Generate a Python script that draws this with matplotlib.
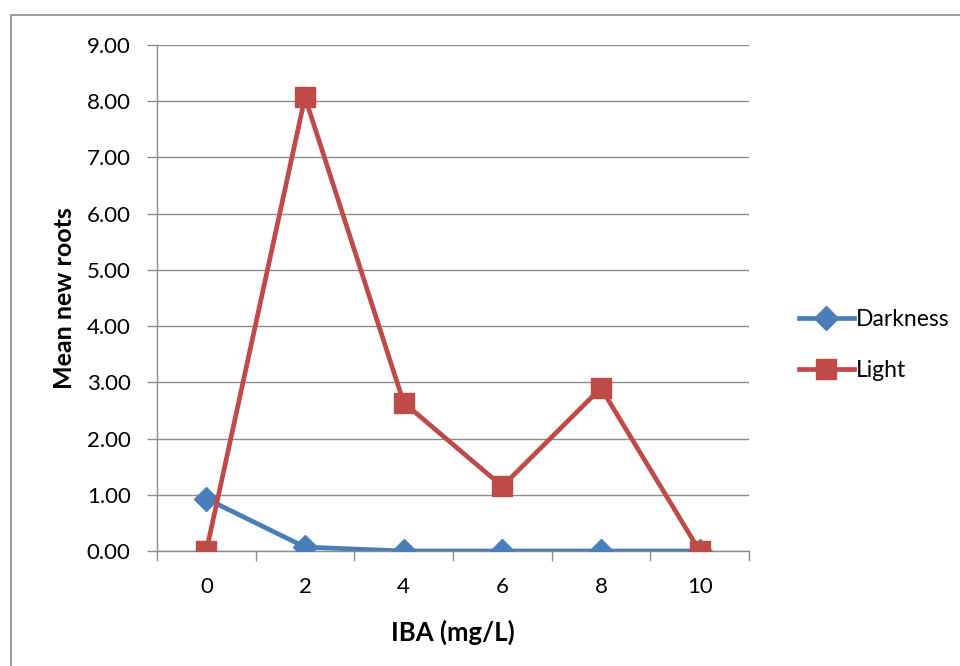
import matplotlib
matplotlib.use("Agg")
import matplotlib.pyplot as plt
from matplotlib.patches import Rectangle

plt.rcParams['font.family'] = ['Lato', 'DejaVu Sans']

iba = ["0", "2", "4", "6", "8", "10"]
darkness = [0.93, 0.07, 0.0, 0.0, 0.0, 0.0]
light = [0.0, 8.07, 2.64, 1.15, 2.90, 0.0]

fig = plt.figure(figsize=(9.6, 6.66), dpi=100)
ax = fig.add_axes([157 / 960, 1 - 551 / 666, 592 / 960, 506 / 666])

# outer chart border
fig.patches.append(Rectangle((11 / 960, -0.1), 1.2, 1 - 15 / 666 + 0.1,
                             transform=fig.transFigure, fill=False,
                             edgecolor="#8c8c8c", linewidth=1.2))

x = list(range(len(iba)))
ax.plot(x, darkness, color="#4a7ebb", linewidth=3.4, marker="D",
        markersize=12.5, label="Darkness", zorder=3)
ax.plot(x, light, color="#be4b48", linewidth=3.4, marker="s",
        markersize=14, label="Light", zorder=4)

ax.set_xlim(-0.5, len(iba) - 0.5)
ax.set_ylim(0, 9)
ax.set_yticks([i for i in range(10)])
ax.set_yticklabels(["%.2f" % i for i in range(10)], fontsize=16)
ax.set_xticks(x)
ax.set_xticklabels(iba, fontsize=16)
ax.set_xticks([i - 0.5 for i in range(len(iba) + 1)], minor=True)
ax.tick_params(axis="x", which="major", length=0, pad=19)
ax.tick_params(axis="x", which="minor", length=7, color="#8c8c8c", width=1)
ax.tick_params(axis="y", length=7, color="#8c8c8c", width=1, pad=12)
ax.grid(axis="y", color="#8c8c8c", linewidth=1)
ax.set_axisbelow(True)
for s in ["top", "right"]:
    ax.spines[s].set_visible(False)
for s in ["left", "bottom"]:
    ax.spines[s].set_color("#8c8c8c")
    ax.spines[s].set_linewidth(1)

ax.set_xlabel("IBA (mg/L)", fontsize=18.5, fontweight="bold", labelpad=16)
ax.set_ylabel("Mean new roots", fontsize=18, fontweight="bold", labelpad=8)

fig.legend(loc="center left", bbox_to_anchor=(778 / 960, 1 - 345 / 666),
           frameon=False, fontsize=16.5, handlelength=2.4, handletextpad=0.1,
           labelspacing=1.3)

fig.savefig("out.png", dpi=100)
